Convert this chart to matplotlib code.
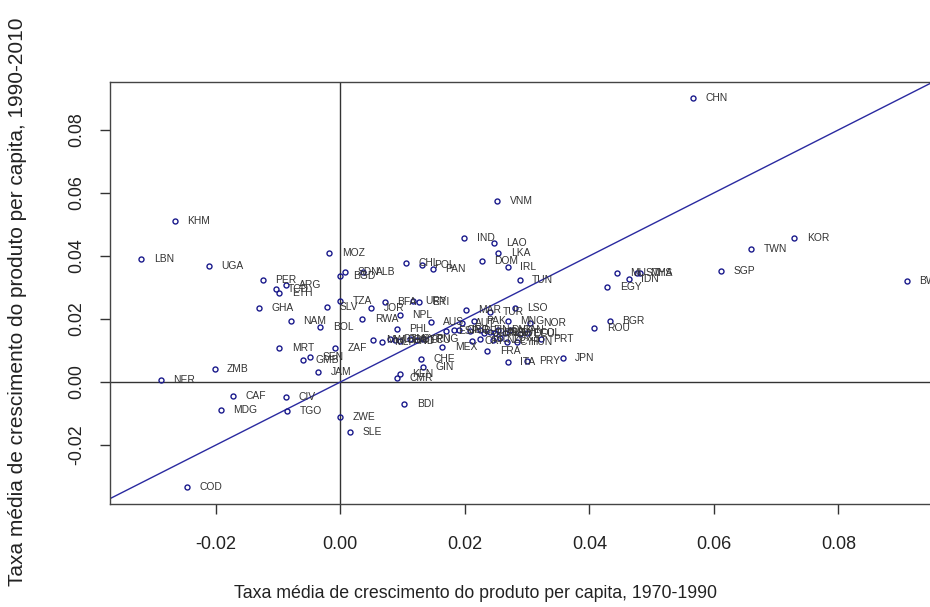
import matplotlib
matplotlib.use("Agg")
import matplotlib.pyplot as plt

# country codes and average per-capita growth rates
codes = ["CHN", "VNM", "KHM", "LBN", "UGA", "MOZ", "PER", "TCD", "ETH", "ARG",
         "GHA", "SLV", "BGD", "SDN", "ALB", "CHL", "POL", "PAN", "TZA", "JOR",
         "BFA", "URY", "ERI", "NPL", "AUS", "RWA", "NAM", "BOL", "PHL", "MRT",
         "ZAF", "SEN", "GMB", "JAM", "CHE", "GIN", "KEN", "CMR", "MEX", "MAR",
         "TUR", "LSO", "MNG", "NOR", "PAK", "ITA", "PRY", "JPN", "FRA", "PRT",
         "HUN", "ROU", "BGR", "EGY", "IND", "LAO", "LKA", "DOM", "IRL", "TUN",
         "MUS", "IDN", "MYS", "THA", "SGP", "TWN", "KOR", "BWA", "ZMB", "NER",
         "CAF", "CIV", "MDG", "TGO", "ZWE", "SLE", "COD", "BDI",
         "MWI", "MLI", "GTM", "BEN", "HND", "SYR", "ECU", "PNG",
         "ESP", "GRC", "ISR", "AUT", "BEL", "FIN", "GBR", "USA", "NLD", "DNK",
         "SWE", "CAN", "DEU", "COL", "CRI", "ISL", "NZL", "LUX", "CYP"]

g7090 = [0.0567, 0.0252, -0.0266, -0.0320, -0.0211, -0.0018, -0.0125, -0.0104, -0.0098, -0.0087,
         -0.0131, -0.0021, 0.0000, 0.0008, 0.0037, 0.0106, 0.0131, 0.0149, 0.0000, 0.0050,
         0.0071, 0.0117, 0.0127, 0.0096, 0.0145, 0.0035, -0.0080, -0.0032, 0.0091, -0.0098,
         -0.0009, -0.0049, -0.0060, -0.0036, 0.0130, 0.0132, 0.0096, 0.0091, 0.0164, 0.0202,
         0.0241, 0.0280, 0.0269, 0.0305, 0.0214, 0.0269, 0.0300, 0.0357, 0.0236, 0.0322,
         0.0284, 0.0408, 0.0433, 0.0429, 0.0199, 0.0247, 0.0254, 0.0227, 0.0269, 0.0288,
         0.0445, 0.0463, 0.0477, 0.0482, 0.0612, 0.0660, 0.0729, 0.0910, -0.0202, -0.0288,
         -0.0173, -0.0087, -0.0192, -0.0085, -0.0001, 0.0016, -0.0246, 0.0103,
         0.0053, 0.0067, 0.0079, 0.0087, 0.0096, 0.0112, 0.0123, 0.0133,
         0.0169, 0.0182, 0.0191, 0.0196, 0.0209, 0.0225, 0.0230, 0.0241, 0.0249, 0.0254,
         0.0265, 0.0273, 0.0289, 0.0300, 0.0212, 0.0225, 0.0246, 0.0257, 0.0268]

g9010 = [0.0902, 0.0575, 0.0510, 0.0390, 0.0368, 0.0410, 0.0324, 0.0296, 0.0282, 0.0307,
         0.0236, 0.0239, 0.0337, 0.0349, 0.0349, 0.0377, 0.0370, 0.0360, 0.0257, 0.0234,
         0.0253, 0.0257, 0.0253, 0.0212, 0.0191, 0.0199, 0.0195, 0.0174, 0.0167, 0.0107,
         0.0107, 0.0078, 0.0070, 0.0032, 0.0072, 0.0049, 0.0024, 0.0012, 0.0112, 0.0229,
         0.0222, 0.0236, 0.0195, 0.0186, 0.0195, 0.0064, 0.0067, 0.0077, 0.0099, 0.0136,
         0.0128, 0.0170, 0.0195, 0.0303, 0.0456, 0.0442, 0.0410, 0.0385, 0.0366, 0.0324,
         0.0345, 0.0327, 0.0345, 0.0347, 0.0353, 0.0421, 0.0458, 0.0321, 0.0040, 0.0006,
         -0.0043, -0.0048, -0.0089, -0.0092, -0.0110, -0.0160, -0.0334, -0.0071,
         0.0133, 0.0128, 0.0137, 0.0133, 0.0131, 0.0137, 0.0133, 0.0137,
         0.0162, 0.0165, 0.0165, 0.0186, 0.0162, 0.0165, 0.0155, 0.0160, 0.0155, 0.0165,
         0.0155, 0.0165, 0.0152, 0.0155, 0.0131, 0.0136, 0.0133, 0.0139, 0.0128]

ticks = [-0.02, 0.00, 0.02, 0.04, 0.06, 0.08]
xlab = "Taxa média de crescimento do produto per capita, 1970-1990"
ylab = "Taxa média de crescimento do produto per capita, 1990-2010"

plt.rcParams["font.family"] = ["Liberation Sans", "DejaVu Sans"]

fig = plt.figure(figsize=(9.3, 6.07), dpi=100)
ax = fig.add_axes([110 / 930, 103 / 607, 828 / 930, 422 / 607])

ax.axhline(0, color="#333333", lw=1, zorder=1)
ax.axvline(0, color="#333333", lw=1, zorder=1)
ax.axline((0, 0), slope=1, color="#2a2aa0", lw=1, zorder=2)

ax.plot(g7090, g9010, "o", ms=3.6, mfc="none", mec="#1a1a8c", mew=1, zorder=3)
for c, x, y in zip(codes, g7090, g9010):
    ax.annotate(c, (x, y), xytext=(9, 0), textcoords="offset points",
                ha="left", va="center", fontsize=7.4, color="#333333")

ax.set_xlim(-0.0370, 0.0960)
ax.set_ylim(-0.0387, 0.0952)
ax.set_xticks(ticks)
ax.set_yticks(ticks)
ax.set_xticklabels(["%.2f" % t for t in ticks], fontsize=13)
ax.set_yticklabels(["%.2f" % t for t in ticks], fontsize=12.8, rotation=90, va="center")
ax.tick_params(length=7, width=1, color="#333333", labelcolor="#222222")
ax.tick_params(axis="x", pad=16)
ax.tick_params(axis="y", pad=11)
for s in ax.spines.values():
    s.set_color("#444444")
    s.set_linewidth(1)

fig.text(475 / 930, 1 - 593 / 607, xlab, ha="center", va="center",
         fontsize=12.8, color="#222222")
fig.text(18 / 930, 1 - 302 / 607, ylab, ha="center", va="center",
         rotation=90, fontsize=15, color="#222222")

fig.savefig("out.png", dpi=100)
